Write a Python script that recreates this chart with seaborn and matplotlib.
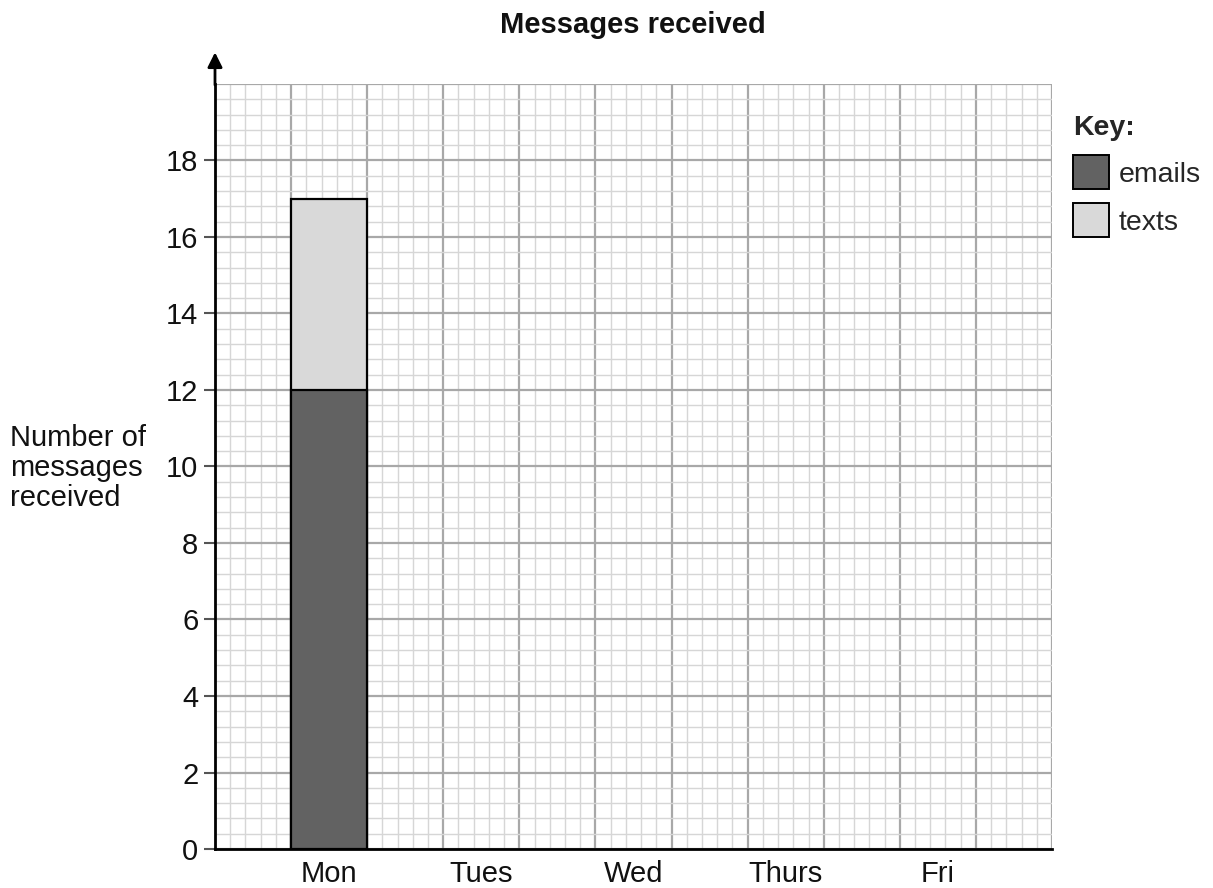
import numpy as np
import pandas as pd
import matplotlib
matplotlib.use("Agg")
import matplotlib.pyplot as plt
from matplotlib.patches import Patch
import seaborn as sns

days = ["Mon", "Tues", "Wed", "Thurs", "Fri"]
emails = [12, np.nan, np.nan, np.nan, np.nan]
texts = [5, np.nan, np.nan, np.nan, np.nan]

sns.set_theme(style="white")
plt.rcParams["font.family"] = ["Liberation Sans", "DejaVu Sans"]

df = pd.DataFrame({"day": days, "emails": emails, "texts": texts})
df["total"] = df["emails"] + df["texts"]

fig = plt.figure(figsize=(12.13, 8.88), dpi=100)
ax = fig.add_axes([215 / 1213, 1 - 849 / 888, (1052 - 215) / 1213, (849 - 84) / 888])

x0, x1 = -0.75, 4.75
# grid
for xv in np.arange(x0, x1 + 1e-9, 0.1):
    major = abs(((xv - x0) / 0.5) - round((xv - x0) / 0.5)) < 1e-6
    ax.axvline(xv, color="#a8a8a8" if major else "#d6d6d6", lw=1.6 if major else 1.0, zorder=0)
for yv in np.arange(0, 20 + 1e-9, 0.4):
    major = abs(yv / 2 - round(yv / 2)) < 1e-6
    ax.axhline(yv, color="#a8a8a8" if major else "#d6d6d6", lw=1.6 if major else 1.0, zorder=0)

sns.barplot(data=df, x="day", y="total", order=days, color="#d9d9d9", width=0.5,
            edgecolor="black", linewidth=1.6, saturation=1, errorbar=None, ax=ax, zorder=2)
sns.barplot(data=df, x="day", y="emails", order=days, color="#626262", width=0.5,
            edgecolor="black", linewidth=1.6, saturation=1, errorbar=None, ax=ax, zorder=3)

ax.set_xlim(x0, x1)
ax.set_ylim(0, 20)
ax.set_yticks(range(0, 20, 2))
ax.set_xlabel("")
ax.set_ylabel("")
for s in ["top", "right"]:
    ax.spines[s].set_visible(False)
for s in ["left", "bottom"]:
    ax.spines[s].set_color("black")
    ax.spines[s].set_linewidth(2)
    ax.spines[s].set_zorder(5)
ax.tick_params(axis="y", which="major", length=8, width=1.5, color="#555555", pad=4,
               labelsize=21, left=True, labelcolor="#111111")
ax.tick_params(axis="x", length=0, pad=8, labelsize=21, labelcolor="#111111")

ax.annotate("", xy=(x0, 20.9), xytext=(x0, 19.9), xycoords="data",
            arrowprops=dict(arrowstyle="-|>", color="black", lw=2, mutation_scale=22),
            annotation_clip=False)

fig.text(633 / 1213, 1 - 25 / 888, "Messages received", ha="center", va="center",
         fontsize=21, fontweight="bold", color="#111111")
fig.text(10 / 1213, 1 - 468 / 888, "Number of\nmessages\nreceived", ha="left", va="center",
         fontsize=21, color="#111111", linespacing=1.1)

handles = [Patch(facecolor="#626262", edgecolor="black", lw=1.4, label="emails"),
           Patch(facecolor="#d9d9d9", edgecolor="black", lw=1.4, label="texts")]
leg = fig.legend(handles=handles, title="Key:", loc="upper left",
                 bbox_to_anchor=(1073 / 1213, 1 - 115 / 888), frameon=False, borderaxespad=0,
                 fontsize=20.5, title_fontsize=20.5, handlelength=1.25, handleheight=1.45,
                 handletextpad=0.35, labelspacing=0.5, alignment="left", borderpad=0)
leg.get_title().set_fontweight("bold")

fig.savefig("out.png", dpi=100)
